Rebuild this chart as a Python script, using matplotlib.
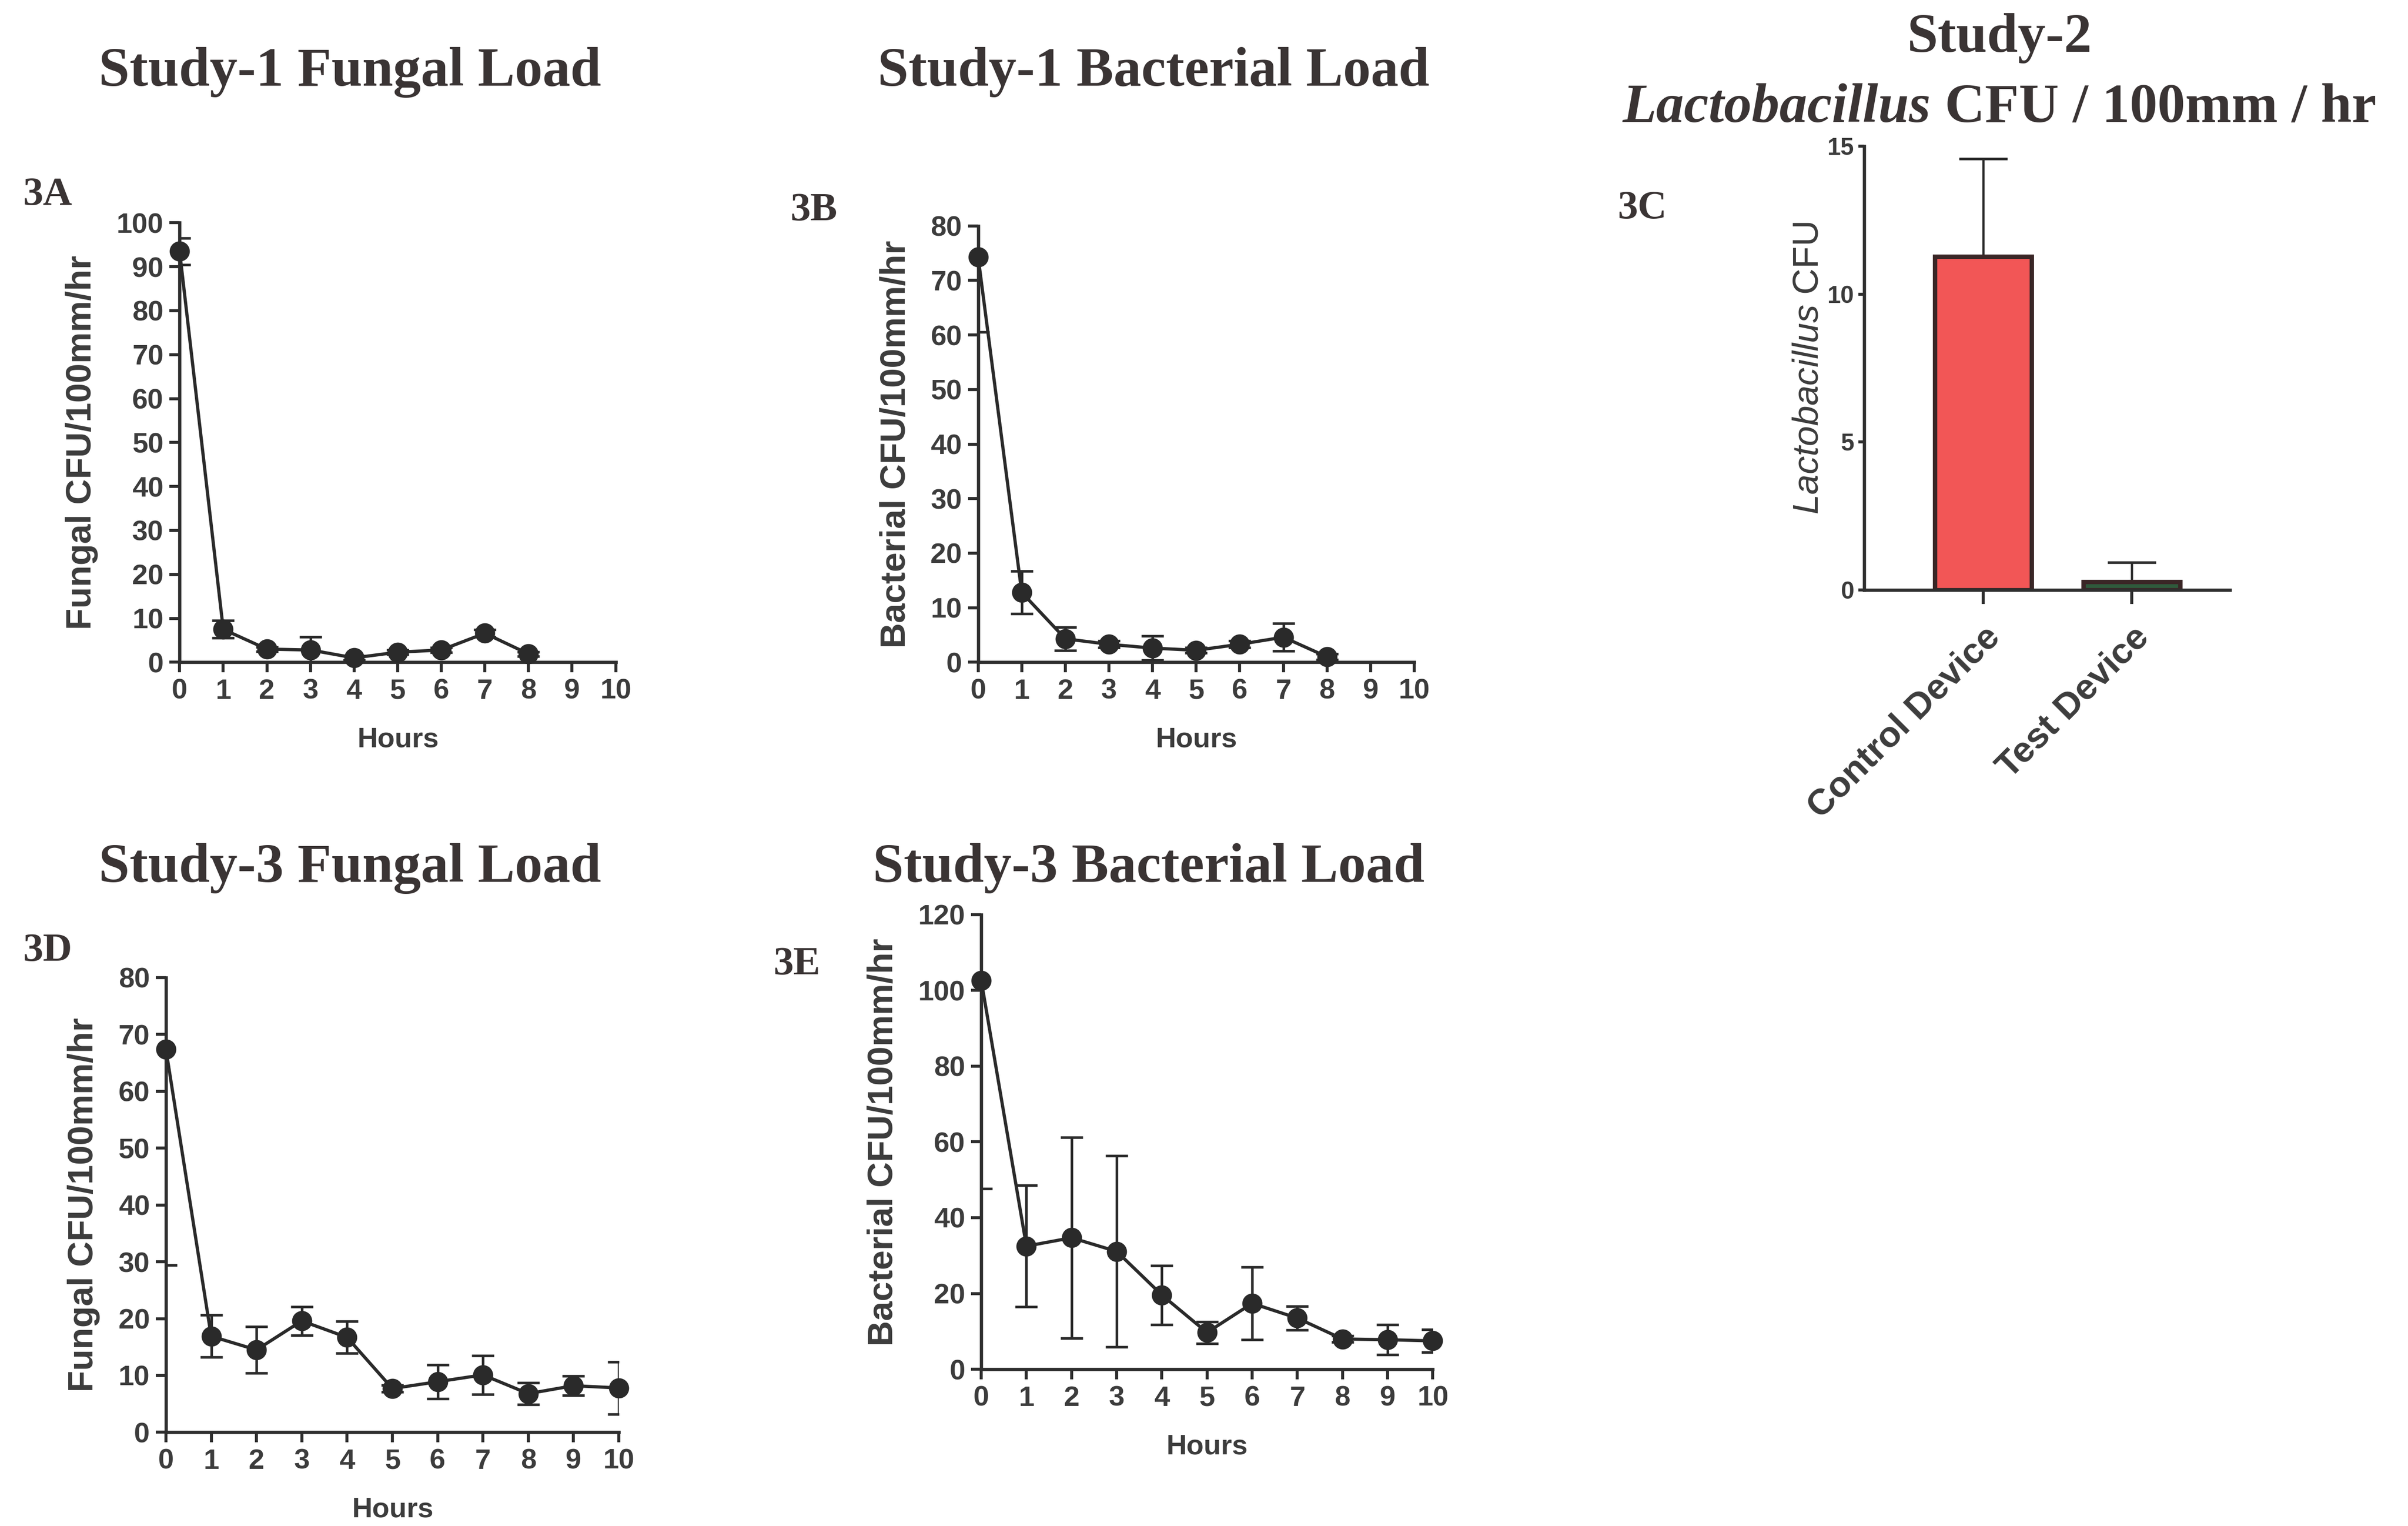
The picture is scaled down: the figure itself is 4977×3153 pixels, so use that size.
import matplotlib
matplotlib.use("Agg")
import matplotlib.pyplot as plt

# study 1 (hours 0-8)
hours_s1 = [0, 1, 2, 3, 4, 5, 6, 7, 8]
s1_fungal = [93.5, 7.5, 3.0, 2.8, 1.0, 2.3, 2.8, 6.6, 1.9]
s1_fungal_err = [3.0, 2.0, 0.5, 3.0, 0.5, 0.5, 0.5, 0.8, 0.5]
s1_bact = [74.3, 12.8, 4.3, 3.3, 2.6, 2.2, 3.3, 4.6, 1.0]
s1_bact_err = [13.8, 3.9, 2.1, 0.6, 2.2, 0.5, 0.6, 2.5, 0.5]

# study 3 (hours 0-10)
hours_s3 = [0, 1, 2, 3, 4, 5, 6, 7, 8, 9, 10]
s3_fungal = [67.4, 16.9, 14.5, 19.6, 16.7, 7.7, 8.9, 10.1, 6.8, 8.2, 7.8]
s3_fungal_err = [38.0, 3.7, 4.1, 2.5, 2.8, 0.6, 3.0, 3.4, 1.9, 1.7, 4.6]
s3_bact = [102.6, 32.5, 34.7, 31.1, 19.6, 9.7, 17.4, 13.5, 8.0, 7.8, 7.5]
s3_bact_err = [55.0, 16.0, 26.5, 25.2, 7.8, 2.9, 9.6, 3.1, 0.8, 4.0, 3.0]

# study 2 bars
devices = ["Control Device", "Test Device"]
lacto = [11.27, 0.29]
lacto_err = [3.3, 0.64]

plt.rcParams["font.family"] = ["Liberation Sans", "DejaVu Sans"]
plt.rcParams["mathtext.fontset"] = "custom"
plt.rcParams["mathtext.it"] = "Liberation Sans:italic"
plt.rcParams["mathtext.rm"] = "Liberation Sans"

AX_C = "#2e2e2e"
TXT_C = "#3c3c3c"
TITLE_C = "#3a3434"
SERIF = ["Liberation Serif", "DejaVu Serif"]

fig = plt.figure(figsize=(16.59, 10.51), dpi=300)


def style_axes(ax, tick_size=14, tick_len=5):
    for s in ["top", "right"]:
        ax.spines[s].set_visible(False)
    for s in ["left", "bottom"]:
        ax.spines[s].set_color(AX_C)
        ax.spines[s].set_linewidth(1.6)
    ax.tick_params(direction="out", length=tick_len, width=1.5, color=AX_C,
                   labelsize=tick_size, labelcolor=TXT_C, pad=3)
    for lab in ax.get_xticklabels() + ax.get_yticklabels():
        lab.set_fontweight("bold")


def line_panel(rect, x, y, err, ymax, ystep, ylabel):
    ax = fig.add_axes(rect)
    ax.errorbar(x, y, yerr=err, fmt="none", ecolor="#2a2a2a",
                elinewidth=1.3, capsize=5.5, capthick=1.3)
    ax.plot(x, y, "-o", color="#2a2a2a", lw=1.6, ms=9, clip_on=False, zorder=3)
    ax.set_xlim(0, 10)
    ax.set_ylim(0, ymax)
    ax.set_xticks(range(0, 11))
    ax.set_yticks(range(0, ymax + 1, ystep))
    style_axes(ax)
    ax.set_xlabel("Hours", fontsize=14, fontweight="bold", color=TXT_C, labelpad=11)
    ax.set_ylabel(ylabel, fontsize=17.5, fontweight="bold", color=TXT_C, labelpad=9)
    return ax


line_panel([0.0746, 0.566, 0.1811, 0.288], hours_s1, s1_fungal, s1_fungal_err,
           100, 10, "Fungal CFU/100mm/hr")
line_panel([0.4062, 0.566, 0.1811, 0.286], hours_s1, s1_bact, s1_bact_err,
           80, 10, "Bacterial CFU/100mm/hr")
line_panel([0.0689, 0.0614, 0.1881, 0.298], hours_s3, s3_fungal, s3_fungal_err,
           80, 10, "Fungal CFU/100mm/hr")
line_panel([0.4075, 0.1027, 0.1875, 0.298], hours_s3, s3_bact, s3_bact_err,
           120, 20, "Bacterial CFU/100mm/hr")

# bar panel 3C
axc = fig.add_axes([0.7742, 0.6133, 0.1518, 0.291])
xpos = [0, 1]
axc.bar(xpos, lacto, width=0.65, color=["#f25656", "#2f5a3c"],
        edgecolor="#3a2626", linewidth=2.2, zorder=2)
axc.errorbar(xpos, lacto, yerr=[[0, 0], lacto_err], fmt="none", ecolor="#2a2a2a",
             elinewidth=1.1, capsize=12, capthick=1.3, zorder=1)
axc.set_xlim(-0.8, 1.66)
axc.set_ylim(0, 15)
axc.set_yticks([0, 5, 10, 15])
axc.set_xticks(xpos)
axc.set_xticklabels(devices)
style_axes(axc, tick_size=12, tick_len=3)
for lab in axc.get_xticklabels():
    lab.set_rotation(45)
    lab.set_ha("right")
    lab.set_rotation_mode("anchor")
    lab.set_fontsize(18)
axc.tick_params(axis="x", length=7, pad=8)
axc.tick_params(axis="y", pad=2)
axc.set_ylabel(r"$\it{Lactobacillus}$ CFU", fontsize=18, color=TXT_C, labelpad=1)

# titles
title_kw = dict(fontsize=27.5, fontweight="bold", color=TITLE_C, family=SERIF,
                ha="center", va="center")
fig.text(0.1454, 0.9527, "Study-1 Fungal Load", **title_kw)
fig.text(0.479, 0.9527, "Study-1 Bacterial Load", **title_kw)
fig.text(0.1454, 0.431, "Study-3 Fungal Load", **title_kw)
fig.text(0.477, 0.431, "Study-3 Bacterial Load", **title_kw)
fig.text(0.8304, 0.9748, "Study-2", **title_kw)

# mixed italic / upright title line for 3C
t1 = fig.text(0.8304, 0.929, "Lactobacillus", fontsize=27.5, fontweight="bold",
              style="italic", color=TITLE_C, family=SERIF, ha="right", va="center")
t2 = fig.text(0.8304, 0.929, " CFU / 100mm / hr", fontsize=27.5, fontweight="bold",
              color=TITLE_C, family=SERIF, ha="left", va="center")
r = fig.canvas.get_renderer()
w1 = t1.get_window_extent(r).width / fig.bbox.width
w2 = t2.get_window_extent(r).width / fig.bbox.width
shift = (w1 - w2) / 2
t1.set_x(0.8304 + shift)
t2.set_x(0.8304 + shift)

# panel letters
lab_kw = dict(fontsize=20, fontweight="bold", color=TITLE_C, family=SERIF,
              ha="center", va="center")
fig.text(0.0198, 0.872, "3A", **lab_kw)
fig.text(0.338, 0.862, "3B", **lab_kw)
fig.text(0.682, 0.863, "3C", **lab_kw)
fig.text(0.0198, 0.3767, "3D", **lab_kw)
fig.text(0.331, 0.3676, "3E", **lab_kw)

fig.savefig("out.png", dpi=300, facecolor="white")
